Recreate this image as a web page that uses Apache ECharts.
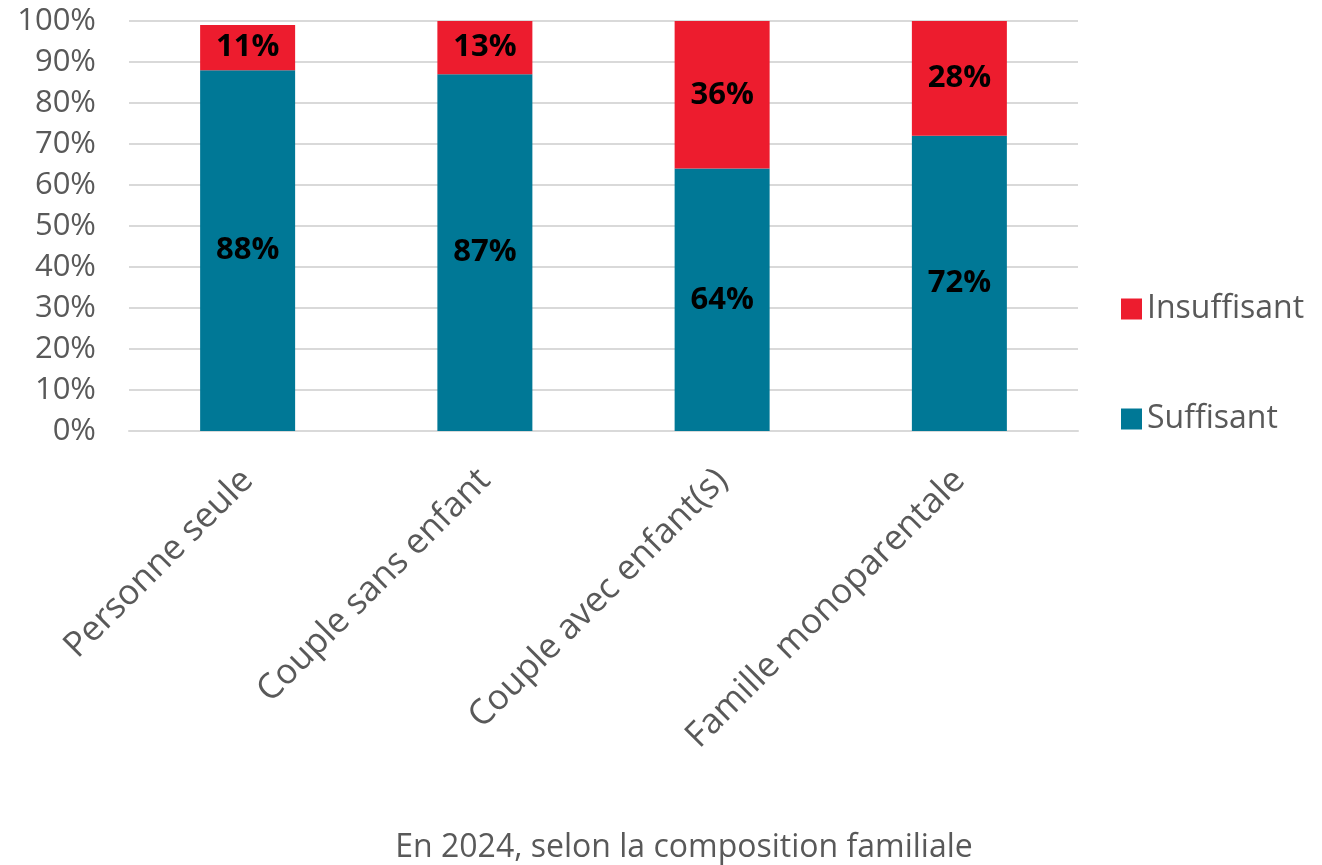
<!DOCTYPE html>
<html>
<head>
<meta charset="utf-8">
<script src="https://cdn.jsdelivr.net/npm/echarts@6/dist/echarts.min.js"></script>
<style>
  html, body { margin: 0; padding: 0; background: #ffffff; }
  #chart { width: 1322px; height: 865px; }
</style>
</head>
<body>
<div id="chart"></div>
<script>
// Composition familiale (catégories de l'axe horizontal)
const categories = ['Personne seule', 'Couple sans enfant', 'Couple avec enfant(s)', 'Famille monoparentale'];
// Parts en pourcentage
const suffisant = [88, 87, 64, 72];
const insuffisant = [11, 13, 36, 28];
// Graduations de l'axe vertical
const yTicks = [0, 10, 20, 30, 40, 50, 60, 70, 80, 90, 100];
const xTitle = 'En 2024, selon la composition familiale';

const FONT = '"Open Sans", "Noto Sans", sans-serif';
const GREY = '#595959';

const chart = echarts.init(document.getElementById('chart'), null, { renderer: 'canvas' });

const segLabel = {
  show: true,
  position: 'inside',
  formatter: p => p.value + '%',
  fontFamily: FONT,
  fontWeight: 'bold',
  fontSize: 31,
  color: '#000000'
};

chart.setOption({
  animation: false,
  backgroundColor: '#ffffff',
  grid: { left: 129, right: 244, top: 21, bottom: 433, containLabel: false },
  legend: {
    orient: 'vertical',
    left: 1116,
    top: 288,
    itemGap: 78,
    itemWidth: 21,
    itemHeight: 21,
    icon: 'rect',
    data: ['Insuffisant', 'Suffisant'],
    textStyle: { fontFamily: FONT, fontSize: 32, color: GREY }
  },
  xAxis: {
    type: 'category',
    data: categories,
    name: xTitle,
    nameLocation: 'middle',
    nameGap: 401,
    nameTextStyle: { fontFamily: FONT, fontSize: 32, color: GREY, padding: [0, 0, 0, 161] },
    axisLine: { show: true, lineStyle: { color: '#d9d9d9', width: 2 } },
    axisTick: { show: false },
    axisLabel: {
      interval: 0,
      rotate: 45,
      margin: 44,
      fontFamily: FONT,
      fontSize: 35,
      color: GREY
    }
  },
  yAxis: {
    type: 'value',
    min: yTicks[0],
    max: yTicks[yTicks.length - 1],
    interval: 10,
    axisLine: { show: false },
    axisTick: { show: false },
    splitLine: { show: true, lineStyle: { color: '#d9d9d9', width: 2 } },
    axisLabel: {
      margin: 33,
      fontFamily: FONT,
      fontSize: 31,
      color: GREY,
      formatter: v => v + '%'
    }
  },
  series: [
    {
      name: 'Suffisant',
      type: 'bar',
      stack: 'total',
      barWidth: 95,
      data: suffisant,
      itemStyle: { color: '#007896' },
      label: segLabel
    },
    {
      name: 'Insuffisant',
      type: 'bar',
      stack: 'total',
      barWidth: 95,
      data: insuffisant,
      itemStyle: { color: '#ED1C2E' },
      label: segLabel
    }
  ]
});
</script>
</body>
</html>
